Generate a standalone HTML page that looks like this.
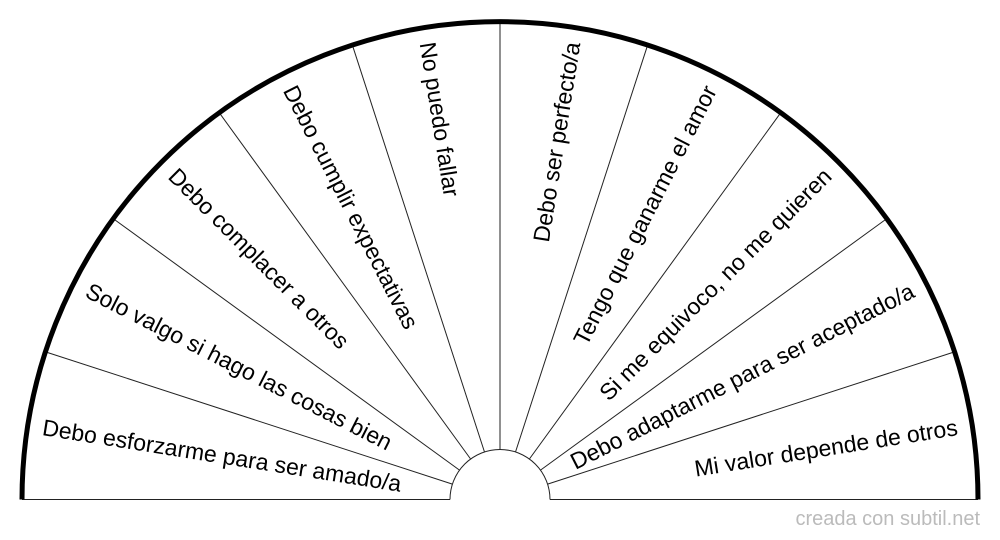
<!DOCTYPE html>
<html><head><meta charset="utf-8"><style>
html,body{margin:0;padding:0;background:#fff;width:1000px;height:540px;overflow:hidden}
</style></head><body>
<svg width="1000" height="540" xmlns="http://www.w3.org/2000/svg" font-family="Liberation Sans, sans-serif">
<g stroke="#222" stroke-width="1" fill="none">
<line x1="22" y1="499.5" x2="450" y2="499.5"/>
<line x1="550" y1="499.5" x2="978" y2="499.5"/>
<path d="M450 499.5 A50 50 0 0 1 550 499.5"/>
<line x1="452.4" y1="484.1" x2="46.3" y2="352.1"/>
<line x1="459.5" y1="470.1" x2="113.7" y2="219.0"/>
<line x1="470.6" y1="459.0" x2="219.6" y2="113.2"/>
<line x1="484.5" y1="452.0" x2="352.6" y2="45.8"/>
<line x1="500" y1="449.5" x2="500" y2="22.5"/>
<line x1="515.5" y1="452.0" x2="647.4" y2="45.8"/>
<line x1="529.4" y1="459.0" x2="780.4" y2="113.2"/>
<line x1="540.5" y1="470.1" x2="886.3" y2="219.0"/>
<line x1="547.6" y1="484.1" x2="953.7" y2="352.1"/>
</g>
<path d="M22 499.5 A478 478 0 0 1 978 499.5" stroke="#000" stroke-width="5" fill="none"/>
<g font-size="23" fill="#000" dominant-baseline="central">
<text transform="translate(500 499.5) rotate(9) translate(-463 0)">Debo esforzarme para ser amado/a</text>
<text transform="translate(500 499.5) rotate(27) translate(-463 0)">Solo valgo si hago las cosas bien</text>
<text transform="translate(500 499.5) rotate(45) translate(-463 0)">Debo complacer a otros</text>
<text transform="translate(500 499.5) rotate(63) translate(-463 0)">Debo cumplir expectativas</text>
<text transform="translate(500 499.5) rotate(81) translate(-463 0)">No puedo fallar</text>
<text text-anchor="end" transform="translate(500 499.5) rotate(-81) translate(463 0)">Debo ser perfecto/a</text>
<text text-anchor="end" transform="translate(500 499.5) rotate(-63) translate(463 0)">Tengo que ganarme el amor</text>
<text text-anchor="end" transform="translate(500 499.5) rotate(-45) translate(463 0)">Si me equivoco, no me quieren</text>
<text text-anchor="end" transform="translate(500 499.5) rotate(-27) translate(463 0)">Debo adaptarme para ser aceptado/a</text>
<text text-anchor="end" transform="translate(500 499.5) rotate(-9) translate(463 0)">Mi valor depende de otros</text>
</g>
<text x="980" y="525" text-anchor="end" font-size="20" fill="#bbb">creada con subtil.net</text>
</svg>
</body></html>
